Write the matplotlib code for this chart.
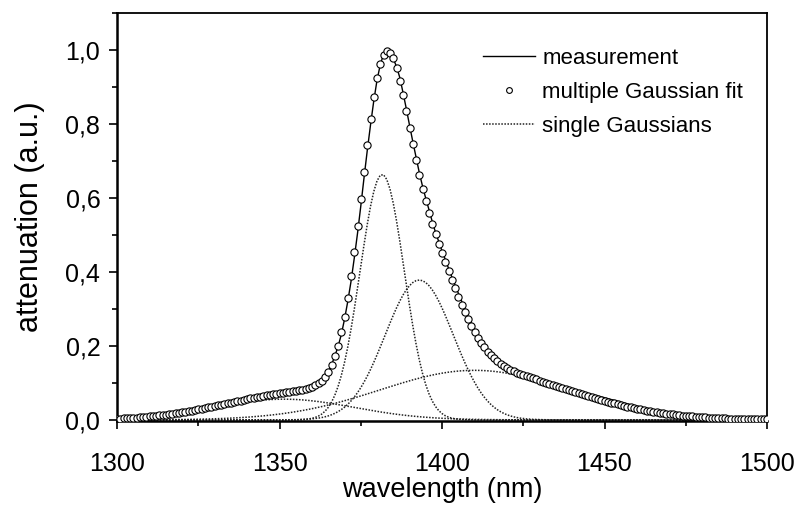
import numpy as np
import matplotlib

matplotlib.use("Agg")
import matplotlib.pyplot as plt
from matplotlib.ticker import MultipleLocator, FuncFormatter

plt.rcParams["font.family"] = ["Liberation Sans", "DejaVu Sans"]

meas_wl = [1300, 1305, 1310, 1315, 1320, 1325, 1330, 1335, 1340, 1345, 1350, 1355,
           1358, 1360, 1362, 1364, 1365, 1366, 1367, 1368, 1369, 1370, 1371, 1372,
           1373, 1374, 1375, 1376, 1377, 1378, 1379, 1380, 1381, 1382, 1383, 1384,
           1385, 1386, 1387, 1388, 1389, 1390, 1391, 1392, 1393, 1394, 1395, 1396,
           1397, 1398, 1399, 1400, 1401, 1402, 1403, 1404, 1405, 1406, 1407, 1408,
           1409, 1410, 1411, 1412, 1413, 1414, 1416, 1418, 1420, 1422, 1425, 1430,
           1435, 1440, 1445, 1450, 1455, 1460, 1465, 1470, 1475, 1480, 1485, 1490,
           1495, 1500]
meas_att = [0.002, 0.003, 0.006, 0.010, 0.016, 0.025, 0.033, 0.041, 0.050, 0.058, 0.066, 0.074,
            0.080, 0.087, 0.097, 0.117, 0.131, 0.149, 0.172, 0.198, 0.230, 0.272, 0.320, 0.374,
            0.437, 0.504, 0.577, 0.654, 0.728, 0.797, 0.862, 0.918, 0.960, 0.988, 1.000, 0.996,
            0.977, 0.955, 0.926, 0.885, 0.842, 0.797, 0.753, 0.711, 0.669, 0.632, 0.599, 0.568,
            0.536, 0.507, 0.482, 0.457, 0.434, 0.410, 0.387, 0.365, 0.343, 0.322, 0.301, 0.279,
            0.262, 0.244, 0.227, 0.210, 0.196, 0.183, 0.162, 0.146, 0.134, 0.127, 0.119, 0.106,
            0.095, 0.082, 0.071, 0.060, 0.048, 0.037, 0.027, 0.018, 0.012, 0.007, 0.005, 0.003,
            0.002, 0.002]

# single Gaussian components (centre nm, height, sigma nm)
g_center = [1351.3, 1381.6, 1393.0, 1410.0]
g_height = [0.056, 0.664, 0.378, 0.134]
g_sigma = [21.5, 6.8, 10.5, 29.0]

# fit is sampled every nm
fit_wl = np.arange(1300, 1501, 1)

x_ticks = [1300, 1350, 1400, 1450, 1500]
y_ticks = [0.0, 0.2, 0.4, 0.6, 0.8, 1.0]


def gauss(x, c, h, s):
    return h * np.exp(-((x - c) ** 2) / (2.0 * s ** 2))


W, H = 799, 507
fig = plt.figure(figsize=(W / 100, H / 100), dpi=100)
ax = fig.add_axes([117 / W, (H - 421) / H, 650 / W, (421 - 13) / H])

comps = [gauss(fit_wl, c, h, s) for c, h, s in zip(g_center, g_height, g_sigma)]
fit = np.sum(comps, axis=0)

ax.plot(meas_wl, meas_att, color="black", lw=1.0, zorder=3, label="measurement")
ax.plot(fit_wl, fit, ls="none", marker="o", ms=5.2, mfc="white", mec="black",
        mew=0.8, zorder=4, label="multiple Gaussian fit")
for i, comp in enumerate(comps):
    ax.plot(fit_wl, comp, color="#222222", lw=1.1, ls=(0, (1, 1)), zorder=2,
            label="single Gaussians" if i == 0 else None)

ax.set_xlim(1300, 1500)
ax.set_ylim(-0.003, 1.10)
ax.set_xticks(x_ticks)
ax.set_yticks(y_ticks)
ax.xaxis.set_minor_locator(MultipleLocator(25))
ax.yaxis.set_minor_locator(MultipleLocator(0.1))
ax.yaxis.set_major_formatter(FuncFormatter(lambda v, p: f"{v:.1f}".replace(".", ",")))

ax.tick_params(which="both", direction="out", top=False, right=False, width=1.2)
ax.tick_params(which="major", length=6, labelsize=18)
ax.tick_params(axis="x", which="major", pad=16)
ax.tick_params(axis="y", which="major", pad=6)
ax.tick_params(which="minor", length=3.5)
for side in ("left", "bottom"):
    ax.spines[side].set_linewidth(1.8)
for side in ("top", "right"):
    ax.spines[side].set_linewidth(1.3)

ax.set_xlabel("wavelength (nm)", fontsize=19.5)
ax.set_ylabel("attenuation (a.u.)", fontsize=22)
ax.xaxis.set_label_coords(0.5, -0.138)
ax.yaxis.set_label_coords(-0.11, 0.5)

ax.legend(loc="upper left", bbox_to_anchor=(0.55, 0.936), frameon=False, fontsize=16,
          handlelength=2.3, handletextpad=0.35, labelspacing=0.58, numpoints=1,
          markerscale=0.8, borderaxespad=0.0)

fig.savefig("out.png", dpi=100)
